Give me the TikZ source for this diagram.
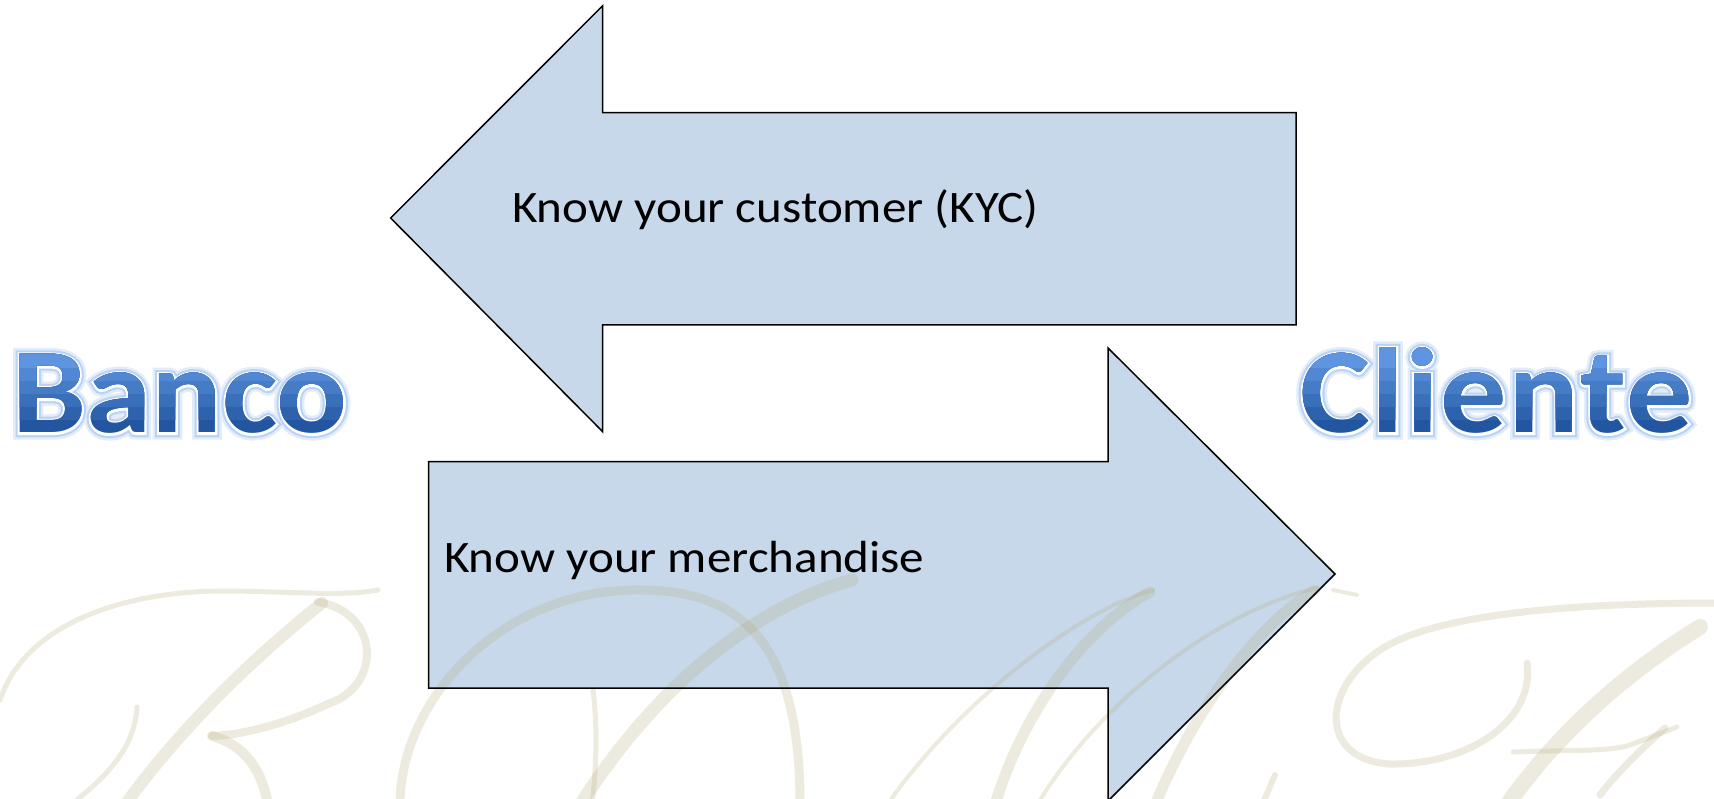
\documentclass[tikz,border=0pt]{standalone}
\usepackage{fontspec}
\setmainfont{Carlito}[FakeStretch=1.09]
\newfontfamily\bbfont{Carlito}[UprightFont={Carlito Bold}, FakeStretch=1.09]
\newfontfamily\ccfont{Carlito}[UprightFont={Carlito Bold}, FakeStretch=1.09, LetterSpace=1.6]
\newfontfamily\bbglowA{Carlito}[UprightFont={Carlito Bold}, FakeStretch=1.09, FakeBold=11]
\newfontfamily\ccglowA{Carlito}[UprightFont={Carlito Bold}, FakeStretch=1.09, LetterSpace=1.6, FakeBold=11]
\newfontfamily\bbglowB{Carlito}[UprightFont={Carlito Bold}, FakeStretch=1.09, FakeBold=7]
\newfontfamily\ccglowB{Carlito}[UprightFont={Carlito Bold}, FakeStretch=1.09, LetterSpace=1.6, FakeBold=7]
\newfontfamily\bbglowC{Carlito}[UprightFont={Carlito Bold}, FakeStretch=1.09, FakeBold=3.5]
\newfontfamily\ccglowC{Carlito}[UprightFont={Carlito Bold}, FakeStretch=1.09, LetterSpace=1.6, FakeBold=3.5]
\newcommand\bigsz{\fontsize{121}{130}\selectfont}
\newcommand\lbltxt{\fontsize{45}{54}\selectfont}
\definecolor{arrowfill}{RGB}{200,216,235}
\definecolor{wmcol}{RGB}{176,166,112}
\definecolor{gtop}{RGB}{94,148,224}
\definecolor{gbot}{RGB}{34,86,160}
\definecolor{glowA}{RGB}{226,236,251}
\definecolor{glowB}{RGB}{184,211,245}
\tikzset{
  arrowbody/.style={fill=arrowfill, draw=none},
  arrowline/.style={draw=black, line width=1.5pt, line join=miter},
  wm/.style={draw=wmcol, draw opacity=0.22, line cap=round, line join=round},
  lbl/.style={inner sep=0pt, font=\lbltxt, text=black},
  bigb/.style={inner sep=0pt, anchor=base west, font=\bbfont\bigsz},
  bigc/.style={inner sep=0pt, anchor=base west, font=\ccfont\bigsz},
}
\begin{document}
\begin{tikzpicture}[x=1pt,y=1pt]
\useasboundingbox (0,0) rectangle (1714,-799);
\clip (0,0) rectangle (1714,-799);
\fill[white] (0,0) rectangle (1714,-799);
\begin{scope}[yscale=-1]
  % arrow bodies
  \path[arrowbody] (390.6,218) -- (602.7,5.7) -- (602.7,112.7) -- (1296,112.7) -- (1296,325) -- (602.7,325) -- (602.7,431.7) -- cycle;
  \path[arrowbody] (428.5,461.7) -- (1108,461.7) -- (1108,348) -- (1335,574) -- (1108,801) -- (1108,688) -- (428.5,688) -- cycle;
  % watermark B
  \draw[wm, line width=5] (0,700) .. controls (25,625) and (120,592) .. (220,591) .. controls (290,591) and (340,597) .. (378,590);
  \draw[wm, line width=12] (322,603) .. controls (250,660) and (175,735) .. (125,805);
  \draw[wm, line width=8] (318,602) .. controls (380,612) and (382,685) .. (330,703) .. controls (290,722) and (245,735) .. (212,736);
  \draw[wm, line width=10] (212,736) .. controls (245,745) and (262,770) .. (268,805);
  \draw[wm, line width=5] (137,707) .. controls (135,745) and (110,775) .. (70,805);
  % watermark D
  \draw[wm, line width=9] (400,805) .. controls (400,700) and (500,592) .. (633,590) .. controls (740,588) and (800,640) .. (800,805);
  \draw[wm, line width=13] (852,580) .. controls (760,605) and (660,680) .. (580,805);
  \draw[wm, line width=5] (593,690) .. controls (598,730) and (596,770) .. (592,805);
  % watermark M
  \draw[wm, line width=4] (1153,590) .. controls (1080,610) and (960,700) .. (887,805);
  \draw[wm, line width=11] (1150,592) .. controls (1080,630) and (1020,720) .. (995,805);
  \draw[wm, line width=4] (1317,588) .. controls (1220,610) and (1100,700) .. (1037,805);
  \draw[wm, line width=11] (1315,590) .. controls (1250,630) and (1190,720) .. (1155,805);
  \draw[wm, line width=6] (1275,775) -- (1262,805);
  % watermark F
  \draw[wm, line width=4] (1333,590) -- (1357,595);
  \draw[wm, line width=7] (1720,603) .. controls (1600,603) and (1440,610) .. (1380,650) .. controls (1320,690) and (1320,760) .. (1390,764) .. controls (1470,765) and (1535,720) .. (1527,663);
  \draw[wm, line width=16] (1700,627) .. controls (1630,670) and (1560,730) .. (1507,805);
  \draw[wm, line width=5] (1513,752) .. controls (1560,750) and (1610,752) .. (1630,745) -- (1677,727);
  \draw[wm, line width=7] (1665,728) .. controls (1640,750) and (1615,775) .. (1600,795);
  % arrow outlines
  \draw[arrowline] (390.6,218) -- (602.7,5.7) -- (602.7,112.7) -- (1296,112.7) -- (1296,325) -- (602.7,325) -- (602.7,431.7) -- cycle;
  \draw[arrowline] (428.5,461.7) -- (1108,461.7) -- (1108,348) -- (1335,574) -- (1108,801) -- (1108,688) -- (428.5,688) -- cycle;
  % labels
  \node[lbl, anchor=base west] (kyc) at (512,223) {Know your customer (KYC)};
  \node[lbl, anchor=base west] (kym) at (444,572) {Know your merchandise};
  % glow and white rim of the big words
  \node[bigb, font=\bbglowA\bigsz, text=glowA] (bancoga) at (12,433) {Banco};
  \node[bigc, font=\ccglowA\bigsz, text=glowA] (clientega) at (1300,433) {Cliente};
  \node[bigb, font=\bbglowB\bigsz, text=glowB] (bancogb) at (12,433) {Banco};
  \node[bigc, font=\ccglowB\bigsz, text=glowB] (clientegb) at (1300,433) {Cliente};
  \node[bigb, font=\bbglowC\bigsz, text=white] (bancogc) at (12,433) {Banco};
  \node[bigc, font=\ccglowC\bigsz, text=white] (clientegc) at (1300,433) {Cliente};
  % letters with a top-to-bottom blue gradient (bands)
  \node[bigb, text=gbot] (banco) at (12,433) {Banco};
  \node[bigc, text=gbot] (cliente) at (1300,433) {Cliente};
  \foreach \yb/\pc in {420/20, 407/40, 394/60, 381/80, 368/100} {
    \begin{scope}
      \clip (0,300) rectangle (1714,\yb);
      \node[bigb, text=gtop!\pc!gbot] (bancob\pc) at (12,433) {Banco};
      \node[bigc, text=gtop!\pc!gbot] (clienteb\pc) at (1300,433) {Cliente};
    \end{scope}
  }
\end{scope}
\end{tikzpicture}
\end{document}
